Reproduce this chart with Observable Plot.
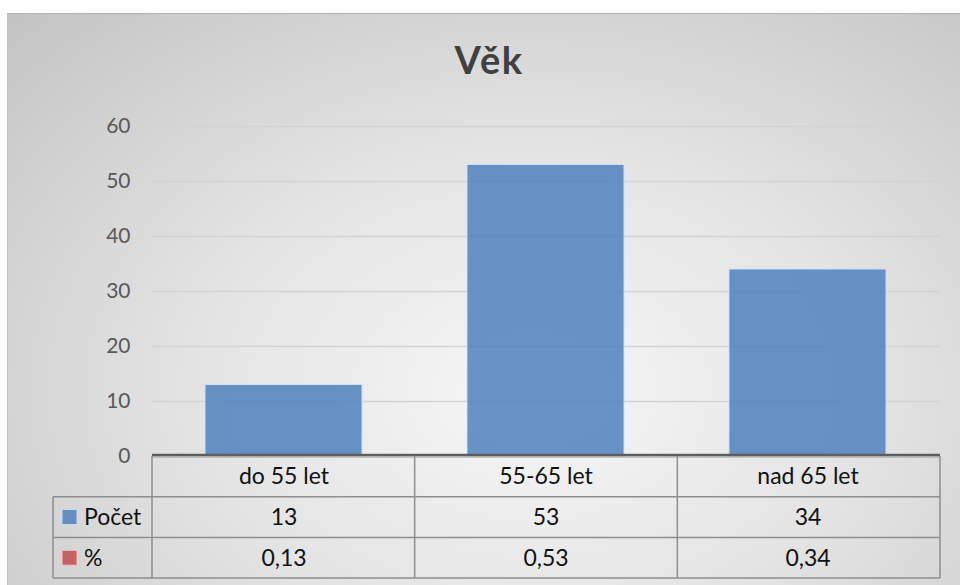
<!DOCTYPE html>
<html>
<head>
<meta charset="utf-8">
<script src="https://cdn.jsdelivr.net/npm/d3@7"></script>
<script src="https://cdn.jsdelivr.net/npm/@observablehq/plot@0.6"></script>
<style>
  body { margin: 0; background: #fff; }
  #chart { position: relative; width: 960px; height: 585px; overflow: hidden; font-family: Lato, sans-serif; }
  #bg { position: absolute; left: 7px; top: 13px; width: 953px; height: 572px; box-sizing: border-box;
        border-top: 1px solid #b3b3b3; border-left: 1px solid #bdbdbd;
        background: radial-gradient(ellipse farthest-corner at 55% 66%, #f7f7f7 0%, #e4e4e4 45%, #c3c3c3 100%); }
  #title { position: absolute; left: 18px; width: 942px; top: 40px; text-align: center;
           font: bold 38px/38px Lato, sans-serif; color: #404040; letter-spacing: 1.5px; }
  #chart svg { position: absolute; left: 0; top: 0; }
</style>
</head>
<body>
<div id="chart">
  <div id="bg"></div>
  <div id="title">Věk</div>
</div>
<script>
// ---- data ----
const categories = ["do 55 let", "55-65 let", "nad 65 let"];
const counts = [13, 53, 34];
const shares = [0.13, 0.53, 0.34];
const seriesNames = ["Počet", "%"];
const seriesColors = ["#4f81bd", "#c0504d"];
const yTicks = [0, 10, 20, 30, 40, 50, 60];

const data = categories.map((c, i) => ({category: c, count: counts[i], share: shares[i]}));
const fmtCz = v => String(v).replace(".", ",");

const tableFont = 23;
const rowH = 40.7;

const plot = Plot.plot({
  width: 960,
  height: 585,
  marginTop: 126,
  marginBottom: 129,
  marginLeft: 152,
  marginRight: 20,
  style: {background: "transparent", fontFamily: "Lato, sans-serif", fontSize: "21px", color: "#595959", overflow: "visible"},
  x: {domain: categories, paddingInner: 0.4, paddingOuter: 0.2, axis: null},
  y: {domain: [0, 60], ticks: yTicks, tickSize: 0, tickPadding: 22, label: null},
  marks: [
    Plot.ruleY(yTicks.filter(d => d > 0), {stroke: "#d3d3d3", strokeWidth: 1.5}),
    Plot.barY(data, {x: "category", y: "count", fill: seriesColors[0], fillOpacity: 0.85, stroke: "#d0deef", strokeWidth: 1}),
    Plot.text(data, {x: "category", text: "category", frameAnchor: "bottom", lineAnchor: "middle", dy: rowH * 0.5, fill: "#111", fontSize: tableFont}),
    Plot.text(data, {x: "category", text: d => String(d.count), frameAnchor: "bottom", lineAnchor: "middle", dy: rowH * 1.5, fill: "#111", fontSize: tableFont}),
    Plot.text(data, {x: "category", text: d => fmtCz(d.share), frameAnchor: "bottom", lineAnchor: "middle", dy: rowH * 2.5, fill: "#111", fontSize: tableFont})
  ]
});

document.getElementById("chart").appendChild(plot);

// ---- data table grid (derived from the plot's x scale) ----
const sx = plot.scale("x");
const sy = plot.scale("y");
const band = d3.scaleBand()
  .domain(sx.domain)
  .range(sx.range)
  .paddingInner(sx.paddingInner)
  .paddingOuter(sx.paddingOuter)
  .align(sx.align ?? 0.5);
const gap = band.step() - band.bandwidth();
const edges = sx.domain.map(c => band(c) - gap / 2);
edges.push(band(sx.domain[sx.domain.length - 1]) + band.bandwidth() + gap / 2);
const y0 = Math.max(...sy.range);
const rows = [0, 1, 2, 3].map(i => y0 + i * rowH);
const headerLeft = 53;

const svg = d3.select(plot);
const g = svg.append("g").attr("class", "data-table");
const lineColor = "#8e8e8e";

rows.slice(1).forEach(y => {
  g.append("line").attr("x1", headerLeft).attr("x2", edges[edges.length - 1])
    .attr("y1", y).attr("y2", y).attr("stroke", lineColor).attr("stroke-width", 1.5);
});
edges.forEach(x => {
  g.append("line").attr("x1", x).attr("x2", x).attr("y1", rows[0]).attr("y2", rows[3])
    .attr("stroke", lineColor).attr("stroke-width", 1.5);
});
g.append("line").attr("x1", headerLeft).attr("x2", headerLeft).attr("y1", rows[1]).attr("y2", rows[3])
  .attr("stroke", lineColor).attr("stroke-width", 1.5);
g.append("line").attr("x1", edges[0]).attr("x2", edges[edges.length - 1])
  .attr("y1", y0 - 1).attr("y2", y0 - 1).attr("stroke", "#5e5e5e").attr("stroke-width", 2.5);
g.append("line").attr("x1", edges[0]).attr("x2", edges[edges.length - 1])
  .attr("y1", y0 + 1).attr("y2", y0 + 1).attr("stroke", "#9a9a9a").attr("stroke-width", 1);

seriesNames.forEach((name, i) => {
  const cy = (rows[i + 1] + rows[i + 2]) / 2;
  g.append("rect").attr("x", headerLeft + 9).attr("y", cy - 7.5).attr("width", 15).attr("height", 15)
    .attr("fill", seriesColors[i]).attr("fill-opacity", 0.85)
    .attr("stroke", i === 0 ? "#c9d9ee" : "#efc9c8").attr("stroke-width", 1);
  g.append("text").attr("x", headerLeft + 31).attr("y", cy).attr("dy", "0.35em")
    .attr("text-anchor", "start")
    .attr("fill", "#111").attr("font-size", tableFont).attr("font-family", "Lato, sans-serif")
    .text(name);
});
</script>
</body>
</html>
